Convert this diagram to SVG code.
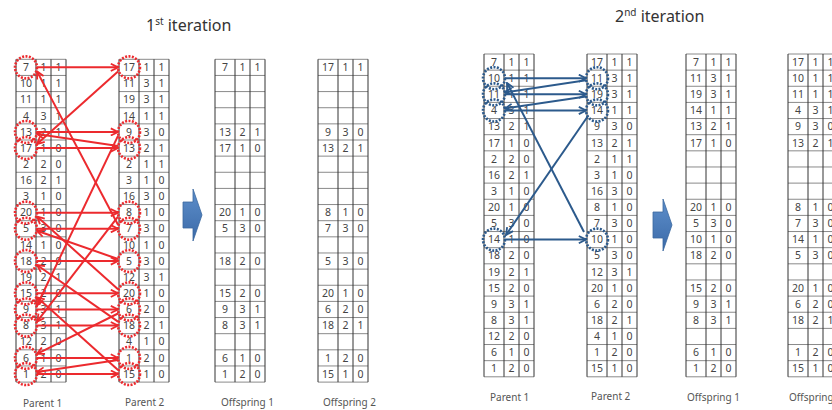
<svg xmlns="http://www.w3.org/2000/svg" xmlns:xlink="http://www.w3.org/1999/xlink" width="832" height="410" viewBox="0 0 832 410">
<style>
.c{font-family:"Noto Sans","DejaVu Sans",sans-serif;font-size:10.5px;fill:#444;text-anchor:middle}
.lbl{font-family:"Noto Sans","DejaVu Sans",sans-serif;font-size:10px;fill:#555}
.ttl{font-family:"Noto Sans","DejaVu Sans",sans-serif;font-size:16px;fill:#333}
.hl{stroke:#8a8a8a;stroke-width:1;fill:none}
.vl{stroke:#333;stroke-width:1;fill:none}
.rc{fill:none;stroke:#EC2A2E;stroke-width:2.6;stroke-dasharray:2 1.4}
.bc{fill:none;stroke:#2C5A8C;stroke-width:2.6;stroke-dasharray:2 1.4}
.ra{fill:none;stroke:#EC2A2E;stroke-width:2;marker-end:url(#mr)}
.ba{fill:none;stroke:#2C5A8C;stroke-width:2;marker-end:url(#mb)}
.blk{fill:url(#bg);stroke:#3A689F;stroke-width:0.8}
</style>
<defs>
<marker id="mr" viewBox="0 0 10 10" refX="9" refY="5" markerWidth="9" markerHeight="9" markerUnits="userSpaceOnUse" orient="auto"><path d="M1,1 L9,5 L1,9" fill="none" stroke="#EC2A2E" stroke-width="2"/></marker>
<marker id="mb" viewBox="0 0 10 10" refX="9" refY="5" markerWidth="9" markerHeight="9" markerUnits="userSpaceOnUse" orient="auto"><path d="M1,1 L9,5 L1,9" fill="none" stroke="#2C5A8C" stroke-width="2"/></marker>
<linearGradient id="bg" x1="0" y1="0" x2="0" y2="1"><stop offset="0" stop-color="#5E8FCB"/><stop offset="1" stop-color="#3B6AA8"/></linearGradient>
<g id="grid">
<path class="hl" d="M0 0H50M0 16.14H50M0 32.28H50M0 48.42H50M0 64.56H50M0 80.7H50M0 96.84H50M0 112.98H50M0 129.12H50M0 145.26H50M0 161.4H50M0 177.54H50M0 193.68H50M0 209.82H50M0 225.96H50M0 242.1H50M0 258.24H50M0 274.38H50M0 290.52H50M0 306.66H50M0 322.8H50"/>
<path class="vl" d="M0 0V322.8M20 0V322.8M35 0V322.8M50 0V322.8"/>
</g>
</defs>
<rect width="832" height="410" fill="#fff"/>

<text class="ttl" x="146" y="31">1<tspan font-size="10" dy="-6">st</tspan><tspan dy="6"> iteration</tspan></text>
<text class="ttl" x="615" y="22">2<tspan font-size="10" dy="-6">nd</tspan><tspan dy="6"> iteration</tspan></text>

<g id="it1-parent1" transform="translate(16,59.3)">
<use xlink:href="#grid"/>
<g class="c">
<text y="11.8"><tspan x="10">7</tspan><tspan x="27.5">1</tspan><tspan x="42.5">1</tspan></text>
<text y="27.94"><tspan x="10">10</tspan><tspan x="27.5">1</tspan><tspan x="42.5">1</tspan></text>
<text y="44.08"><tspan x="10">11</tspan><tspan x="27.5">1</tspan><tspan x="42.5">1</tspan></text>
<text y="60.22"><tspan x="10">4</tspan><tspan x="27.5">3</tspan><tspan x="42.5">1</tspan></text>
<text y="76.36"><tspan x="10">13</tspan><tspan x="27.5">2</tspan><tspan x="42.5">1</tspan></text>
<text y="92.5"><tspan x="10">17</tspan><tspan x="27.5">1</tspan><tspan x="42.5">0</tspan></text>
<text y="108.64"><tspan x="10">2</tspan><tspan x="27.5">2</tspan><tspan x="42.5">0</tspan></text>
<text y="124.78"><tspan x="10">16</tspan><tspan x="27.5">2</tspan><tspan x="42.5">1</tspan></text>
<text y="140.92"><tspan x="10">3</tspan><tspan x="27.5">1</tspan><tspan x="42.5">0</tspan></text>
<text y="157.06"><tspan x="10">20</tspan><tspan x="27.5">1</tspan><tspan x="42.5">0</tspan></text>
<text y="173.2"><tspan x="10">5</tspan><tspan x="27.5">3</tspan><tspan x="42.5">0</tspan></text>
<text y="189.34"><tspan x="10">14</tspan><tspan x="27.5">1</tspan><tspan x="42.5">0</tspan></text>
<text y="205.48"><tspan x="10">18</tspan><tspan x="27.5">2</tspan><tspan x="42.5">0</tspan></text>
<text y="221.62"><tspan x="10">19</tspan><tspan x="27.5">2</tspan><tspan x="42.5">1</tspan></text>
<text y="237.76"><tspan x="10">15</tspan><tspan x="27.5">2</tspan><tspan x="42.5">0</tspan></text>
<text y="253.9"><tspan x="10">9</tspan><tspan x="27.5">3</tspan><tspan x="42.5">1</tspan></text>
<text y="270.04"><tspan x="10">8</tspan><tspan x="27.5">3</tspan><tspan x="42.5">1</tspan></text>
<text y="286.18"><tspan x="10">12</tspan><tspan x="27.5">2</tspan><tspan x="42.5">0</tspan></text>
<text y="302.32"><tspan x="10">6</tspan><tspan x="27.5">1</tspan><tspan x="42.5">0</tspan></text>
<text y="318.46"><tspan x="10">1</tspan><tspan x="27.5">2</tspan><tspan x="42.5">0</tspan></text>
</g>
</g>

<g id="it1-parent2" transform="translate(119,59.3)">
<use xlink:href="#grid"/>
<g class="c">
<text y="11.8"><tspan x="10">17</tspan><tspan x="27.5">1</tspan><tspan x="42.5">1</tspan></text>
<text y="27.94"><tspan x="10">11</tspan><tspan x="27.5">3</tspan><tspan x="42.5">1</tspan></text>
<text y="44.08"><tspan x="10">19</tspan><tspan x="27.5">3</tspan><tspan x="42.5">1</tspan></text>
<text y="60.22"><tspan x="10">14</tspan><tspan x="27.5">1</tspan><tspan x="42.5">1</tspan></text>
<text y="76.36"><tspan x="10">9</tspan><tspan x="27.5">3</tspan><tspan x="42.5">0</tspan></text>
<text y="92.5"><tspan x="10">13</tspan><tspan x="27.5">2</tspan><tspan x="42.5">1</tspan></text>
<text y="108.64"><tspan x="10">2</tspan><tspan x="27.5">1</tspan><tspan x="42.5">1</tspan></text>
<text y="124.78"><tspan x="10">3</tspan><tspan x="27.5">1</tspan><tspan x="42.5">0</tspan></text>
<text y="140.92"><tspan x="10">16</tspan><tspan x="27.5">3</tspan><tspan x="42.5">0</tspan></text>
<text y="157.06"><tspan x="10">8</tspan><tspan x="27.5">1</tspan><tspan x="42.5">0</tspan></text>
<text y="173.2"><tspan x="10">7</tspan><tspan x="27.5">3</tspan><tspan x="42.5">0</tspan></text>
<text y="189.34"><tspan x="10">10</tspan><tspan x="27.5">1</tspan><tspan x="42.5">0</tspan></text>
<text y="205.48"><tspan x="10">5</tspan><tspan x="27.5">3</tspan><tspan x="42.5">0</tspan></text>
<text y="221.62"><tspan x="10">12</tspan><tspan x="27.5">3</tspan><tspan x="42.5">1</tspan></text>
<text y="237.76"><tspan x="10">20</tspan><tspan x="27.5">1</tspan><tspan x="42.5">0</tspan></text>
<text y="253.9"><tspan x="10">6</tspan><tspan x="27.5">2</tspan><tspan x="42.5">0</tspan></text>
<text y="270.04"><tspan x="10">18</tspan><tspan x="27.5">2</tspan><tspan x="42.5">1</tspan></text>
<text y="286.18"><tspan x="10">4</tspan><tspan x="27.5">1</tspan><tspan x="42.5">0</tspan></text>
<text y="302.32"><tspan x="10">1</tspan><tspan x="27.5">2</tspan><tspan x="42.5">0</tspan></text>
<text y="318.46"><tspan x="10">15</tspan><tspan x="27.5">1</tspan><tspan x="42.5">0</tspan></text>
</g>
</g>

<g id="it1-offspring1" transform="translate(215,59.3)">
<use xlink:href="#grid"/>
<g class="c">
<text y="11.8"><tspan x="10">7</tspan><tspan x="27.5">1</tspan><tspan x="42.5">1</tspan></text>
<text y="76.36"><tspan x="10">13</tspan><tspan x="27.5">2</tspan><tspan x="42.5">1</tspan></text>
<text y="92.5"><tspan x="10">17</tspan><tspan x="27.5">1</tspan><tspan x="42.5">0</tspan></text>
<text y="157.06"><tspan x="10">20</tspan><tspan x="27.5">1</tspan><tspan x="42.5">0</tspan></text>
<text y="173.2"><tspan x="10">5</tspan><tspan x="27.5">3</tspan><tspan x="42.5">0</tspan></text>
<text y="205.48"><tspan x="10">18</tspan><tspan x="27.5">2</tspan><tspan x="42.5">0</tspan></text>
<text y="237.76"><tspan x="10">15</tspan><tspan x="27.5">2</tspan><tspan x="42.5">0</tspan></text>
<text y="253.9"><tspan x="10">9</tspan><tspan x="27.5">3</tspan><tspan x="42.5">1</tspan></text>
<text y="270.04"><tspan x="10">8</tspan><tspan x="27.5">3</tspan><tspan x="42.5">1</tspan></text>
<text y="302.32"><tspan x="10">6</tspan><tspan x="27.5">1</tspan><tspan x="42.5">0</tspan></text>
<text y="318.46"><tspan x="10">1</tspan><tspan x="27.5">2</tspan><tspan x="42.5">0</tspan></text>
</g>
</g>

<g id="it1-offspring2" transform="translate(318,59.3)">
<use xlink:href="#grid"/>
<g class="c">
<text y="11.8"><tspan x="10">17</tspan><tspan x="27.5">1</tspan><tspan x="42.5">1</tspan></text>
<text y="76.36"><tspan x="10">9</tspan><tspan x="27.5">3</tspan><tspan x="42.5">0</tspan></text>
<text y="92.5"><tspan x="10">13</tspan><tspan x="27.5">2</tspan><tspan x="42.5">1</tspan></text>
<text y="157.06"><tspan x="10">8</tspan><tspan x="27.5">1</tspan><tspan x="42.5">0</tspan></text>
<text y="173.2"><tspan x="10">7</tspan><tspan x="27.5">3</tspan><tspan x="42.5">0</tspan></text>
<text y="205.48"><tspan x="10">5</tspan><tspan x="27.5">3</tspan><tspan x="42.5">0</tspan></text>
<text y="237.76"><tspan x="10">20</tspan><tspan x="27.5">1</tspan><tspan x="42.5">0</tspan></text>
<text y="253.9"><tspan x="10">6</tspan><tspan x="27.5">2</tspan><tspan x="42.5">0</tspan></text>
<text y="270.04"><tspan x="10">18</tspan><tspan x="27.5">2</tspan><tspan x="42.5">1</tspan></text>
<text y="302.32"><tspan x="10">1</tspan><tspan x="27.5">2</tspan><tspan x="42.5">0</tspan></text>
<text y="318.46"><tspan x="10">15</tspan><tspan x="27.5">1</tspan><tspan x="42.5">0</tspan></text>
</g>
</g>

<g id="it2-parent1" transform="translate(484,54)">
<use xlink:href="#grid"/>
<g class="c">
<text y="11.8"><tspan x="10">7</tspan><tspan x="27.5">1</tspan><tspan x="42.5">1</tspan></text>
<text y="27.94"><tspan x="10">10</tspan><tspan x="27.5">1</tspan><tspan x="42.5">1</tspan></text>
<text y="44.08"><tspan x="10">11</tspan><tspan x="27.5">1</tspan><tspan x="42.5">1</tspan></text>
<text y="60.22"><tspan x="10">4</tspan><tspan x="27.5">3</tspan><tspan x="42.5">1</tspan></text>
<text y="76.36"><tspan x="10">13</tspan><tspan x="27.5">2</tspan><tspan x="42.5">1</tspan></text>
<text y="92.5"><tspan x="10">17</tspan><tspan x="27.5">1</tspan><tspan x="42.5">0</tspan></text>
<text y="108.64"><tspan x="10">2</tspan><tspan x="27.5">2</tspan><tspan x="42.5">0</tspan></text>
<text y="124.78"><tspan x="10">16</tspan><tspan x="27.5">2</tspan><tspan x="42.5">1</tspan></text>
<text y="140.92"><tspan x="10">3</tspan><tspan x="27.5">1</tspan><tspan x="42.5">0</tspan></text>
<text y="157.06"><tspan x="10">20</tspan><tspan x="27.5">1</tspan><tspan x="42.5">0</tspan></text>
<text y="173.2"><tspan x="10">5</tspan><tspan x="27.5">3</tspan><tspan x="42.5">0</tspan></text>
<text y="189.34"><tspan x="10">14</tspan><tspan x="27.5">1</tspan><tspan x="42.5">0</tspan></text>
<text y="205.48"><tspan x="10">18</tspan><tspan x="27.5">2</tspan><tspan x="42.5">0</tspan></text>
<text y="221.62"><tspan x="10">19</tspan><tspan x="27.5">2</tspan><tspan x="42.5">1</tspan></text>
<text y="237.76"><tspan x="10">15</tspan><tspan x="27.5">2</tspan><tspan x="42.5">0</tspan></text>
<text y="253.9"><tspan x="10">9</tspan><tspan x="27.5">3</tspan><tspan x="42.5">1</tspan></text>
<text y="270.04"><tspan x="10">8</tspan><tspan x="27.5">3</tspan><tspan x="42.5">1</tspan></text>
<text y="286.18"><tspan x="10">12</tspan><tspan x="27.5">2</tspan><tspan x="42.5">0</tspan></text>
<text y="302.32"><tspan x="10">6</tspan><tspan x="27.5">1</tspan><tspan x="42.5">0</tspan></text>
<text y="318.46"><tspan x="10">1</tspan><tspan x="27.5">2</tspan><tspan x="42.5">0</tspan></text>
</g>
</g>

<g id="it2-parent2" transform="translate(587,54)">
<use xlink:href="#grid"/>
<g class="c">
<text y="11.8"><tspan x="10">17</tspan><tspan x="27.5">1</tspan><tspan x="42.5">1</tspan></text>
<text y="27.94"><tspan x="10">11</tspan><tspan x="27.5">3</tspan><tspan x="42.5">1</tspan></text>
<text y="44.08"><tspan x="10">19</tspan><tspan x="27.5">3</tspan><tspan x="42.5">1</tspan></text>
<text y="60.22"><tspan x="10">14</tspan><tspan x="27.5">1</tspan><tspan x="42.5">1</tspan></text>
<text y="76.36"><tspan x="10">9</tspan><tspan x="27.5">3</tspan><tspan x="42.5">0</tspan></text>
<text y="92.5"><tspan x="10">13</tspan><tspan x="27.5">2</tspan><tspan x="42.5">1</tspan></text>
<text y="108.64"><tspan x="10">2</tspan><tspan x="27.5">1</tspan><tspan x="42.5">1</tspan></text>
<text y="124.78"><tspan x="10">3</tspan><tspan x="27.5">1</tspan><tspan x="42.5">0</tspan></text>
<text y="140.92"><tspan x="10">16</tspan><tspan x="27.5">3</tspan><tspan x="42.5">0</tspan></text>
<text y="157.06"><tspan x="10">8</tspan><tspan x="27.5">1</tspan><tspan x="42.5">0</tspan></text>
<text y="173.2"><tspan x="10">7</tspan><tspan x="27.5">3</tspan><tspan x="42.5">0</tspan></text>
<text y="189.34"><tspan x="10">10</tspan><tspan x="27.5">1</tspan><tspan x="42.5">0</tspan></text>
<text y="205.48"><tspan x="10">5</tspan><tspan x="27.5">3</tspan><tspan x="42.5">0</tspan></text>
<text y="221.62"><tspan x="10">12</tspan><tspan x="27.5">3</tspan><tspan x="42.5">1</tspan></text>
<text y="237.76"><tspan x="10">20</tspan><tspan x="27.5">1</tspan><tspan x="42.5">0</tspan></text>
<text y="253.9"><tspan x="10">6</tspan><tspan x="27.5">2</tspan><tspan x="42.5">0</tspan></text>
<text y="270.04"><tspan x="10">18</tspan><tspan x="27.5">2</tspan><tspan x="42.5">1</tspan></text>
<text y="286.18"><tspan x="10">4</tspan><tspan x="27.5">1</tspan><tspan x="42.5">0</tspan></text>
<text y="302.32"><tspan x="10">1</tspan><tspan x="27.5">2</tspan><tspan x="42.5">0</tspan></text>
<text y="318.46"><tspan x="10">15</tspan><tspan x="27.5">1</tspan><tspan x="42.5">0</tspan></text>
</g>
</g>

<g id="it2-offspring1" transform="translate(686,54)">
<use xlink:href="#grid"/>
<g class="c">
<text y="11.8"><tspan x="10">7</tspan><tspan x="27.5">1</tspan><tspan x="42.5">1</tspan></text>
<text y="27.94"><tspan x="10">11</tspan><tspan x="27.5">3</tspan><tspan x="42.5">1</tspan></text>
<text y="44.08"><tspan x="10">19</tspan><tspan x="27.5">3</tspan><tspan x="42.5">1</tspan></text>
<text y="60.22"><tspan x="10">14</tspan><tspan x="27.5">1</tspan><tspan x="42.5">1</tspan></text>
<text y="76.36"><tspan x="10">13</tspan><tspan x="27.5">2</tspan><tspan x="42.5">1</tspan></text>
<text y="92.5"><tspan x="10">17</tspan><tspan x="27.5">1</tspan><tspan x="42.5">0</tspan></text>
<text y="157.06"><tspan x="10">20</tspan><tspan x="27.5">1</tspan><tspan x="42.5">0</tspan></text>
<text y="173.2"><tspan x="10">5</tspan><tspan x="27.5">3</tspan><tspan x="42.5">0</tspan></text>
<text y="189.34"><tspan x="10">10</tspan><tspan x="27.5">1</tspan><tspan x="42.5">0</tspan></text>
<text y="205.48"><tspan x="10">18</tspan><tspan x="27.5">2</tspan><tspan x="42.5">0</tspan></text>
<text y="237.76"><tspan x="10">15</tspan><tspan x="27.5">2</tspan><tspan x="42.5">0</tspan></text>
<text y="253.9"><tspan x="10">9</tspan><tspan x="27.5">3</tspan><tspan x="42.5">1</tspan></text>
<text y="270.04"><tspan x="10">8</tspan><tspan x="27.5">3</tspan><tspan x="42.5">1</tspan></text>
<text y="302.32"><tspan x="10">6</tspan><tspan x="27.5">1</tspan><tspan x="42.5">0</tspan></text>
<text y="318.46"><tspan x="10">1</tspan><tspan x="27.5">2</tspan><tspan x="42.5">0</tspan></text>
</g>
</g>

<g id="it2-offspring2" transform="translate(788,54)">
<use xlink:href="#grid"/>
<g class="c">
<text y="11.8"><tspan x="10">17</tspan><tspan x="27.5">1</tspan><tspan x="42.5">1</tspan></text>
<text y="27.94"><tspan x="10">10</tspan><tspan x="27.5">1</tspan><tspan x="42.5">1</tspan></text>
<text y="44.08"><tspan x="10">11</tspan><tspan x="27.5">1</tspan><tspan x="42.5">1</tspan></text>
<text y="60.22"><tspan x="10">4</tspan><tspan x="27.5">3</tspan><tspan x="42.5">1</tspan></text>
<text y="76.36"><tspan x="10">9</tspan><tspan x="27.5">3</tspan><tspan x="42.5">0</tspan></text>
<text y="92.5"><tspan x="10">13</tspan><tspan x="27.5">2</tspan><tspan x="42.5">1</tspan></text>
<text y="157.06"><tspan x="10">8</tspan><tspan x="27.5">1</tspan><tspan x="42.5">0</tspan></text>
<text y="173.2"><tspan x="10">7</tspan><tspan x="27.5">3</tspan><tspan x="42.5">0</tspan></text>
<text y="189.34"><tspan x="10">14</tspan><tspan x="27.5">1</tspan><tspan x="42.5">0</tspan></text>
<text y="205.48"><tspan x="10">5</tspan><tspan x="27.5">3</tspan><tspan x="42.5">0</tspan></text>
<text y="237.76"><tspan x="10">20</tspan><tspan x="27.5">1</tspan><tspan x="42.5">0</tspan></text>
<text y="253.9"><tspan x="10">6</tspan><tspan x="27.5">2</tspan><tspan x="42.5">0</tspan></text>
<text y="270.04"><tspan x="10">18</tspan><tspan x="27.5">2</tspan><tspan x="42.5">1</tspan></text>
<text y="302.32"><tspan x="10">1</tspan><tspan x="27.5">2</tspan><tspan x="42.5">0</tspan></text>
<text y="318.46"><tspan x="10">15</tspan><tspan x="27.5">1</tspan><tspan x="42.5">0</tspan></text>
</g>
</g>

<g id="labels" class="lbl">
<text x="23" y="407">Parent 1</text>
<text x="125" y="406">Parent 2</text>
<text x="221" y="406">Offspring 1</text>
<text x="323" y="406">Offspring 2</text>
<text x="490" y="401">Parent 1</text>
<text x="591" y="400">Parent 2</text>
<text x="687" y="401">Offspring 1</text>
<text x="789" y="401">Offspring 2</text>
</g>

<g id="arrow-it1"><path class="blk" d="M183 202H193V189L202 215L193 241V228H183Z"/></g>
<g id="arrow-it2"><path class="blk" d="M653 212H663V199L672 225L663 251V238H653Z"/></g>

<g id="circles-it1">
<circle class="rc" cx="26" cy="67.37" r="11"/><circle class="rc" cx="26" cy="131.93" r="11"/><circle class="rc" cx="26" cy="148.07" r="11"/><circle class="rc" cx="26" cy="212.63" r="11"/><circle class="rc" cx="26" cy="228.77" r="11"/><circle class="rc" cx="26" cy="261.05" r="11"/><circle class="rc" cx="26" cy="293.33" r="11"/><circle class="rc" cx="26" cy="309.47" r="11"/><circle class="rc" cx="26" cy="325.61" r="11"/><circle class="rc" cx="26" cy="357.89" r="11"/><circle class="rc" cx="26" cy="374.03" r="11"/>
<circle class="rc" cx="129" cy="67.37" r="11"/><circle class="rc" cx="129" cy="131.93" r="11"/><circle class="rc" cx="129" cy="148.07" r="11"/><circle class="rc" cx="129" cy="212.63" r="11"/><circle class="rc" cx="129" cy="228.77" r="11"/><circle class="rc" cx="129" cy="261.05" r="11"/><circle class="rc" cx="129" cy="293.33" r="11"/><circle class="rc" cx="129" cy="309.47" r="11"/><circle class="rc" cx="129" cy="325.61" r="11"/><circle class="rc" cx="129" cy="357.89" r="11"/><circle class="rc" cx="129" cy="374.03" r="11"/>
</g>
<g id="circles-it2">
<circle class="bc" cx="494" cy="78.21" r="11"/><circle class="bc" cx="494" cy="94.35" r="11"/><circle class="bc" cx="494" cy="110.49" r="11"/><circle class="bc" cx="494" cy="239.61" r="11"/>
<circle class="bc" cx="597" cy="78.21" r="11"/><circle class="bc" cx="597" cy="94.35" r="11"/><circle class="bc" cx="597" cy="110.49" r="11"/><circle class="bc" cx="597" cy="239.61" r="11"/>
</g>

<g id="connectors">
<path class="ra" d="M37 67.37H118"/>
<path class="ra" d="M37 131.93H118"/>
<path class="ra" d="M37 148.07H118"/>
<path class="ra" d="M37 212.63H118"/>
<path class="ra" d="M37 228.77H118"/>
<path class="ra" d="M37 261.05H118"/>
<path class="ra" d="M37 293.33H118"/>
<path class="ra" d="M37 309.47H118"/>
<path class="ra" d="M37 325.61H118"/>
<path class="ra" d="M37 357.89H118"/>
<path class="ra" d="M37 374.03H118"/>
<path class="ra" d="M118 71.4L37 144.1"/>
<path class="ra" d="M118 146.1L37 133.9"/>
<path class="ra" d="M118 135.9L37 305.5"/>
<path class="ra" d="M118 313.5L37 353.9"/>
<path class="ra" d="M118 359.9L37 372"/>
<path class="ra" d="M118 370L37 297.3"/>
<path class="ra" d="M118 289.3L37 216.6"/>
<path class="ra" d="M118 216.6L37 321.6"/>
<path class="ra" d="M118 321.6L37 265"/>
<path class="ra" d="M118 259L37 230.8"/>
<path class="ra" d="M118 224.8L37 71.4"/>
<path class="ba" d="M505 78.21H586"/>
<path class="ba" d="M505 94.35H586"/>
<path class="ba" d="M505 110.49H586"/>
<path class="ba" d="M505 239.61H586"/>
<path class="ba" d="M586 80.2L505 92.4"/>
<path class="ba" d="M586 96.4L505 108.5"/>
<path class="ba" d="M588 116L506 235"/>
<path class="ba" d="M584 232L507 83"/>
</g>
</svg>
